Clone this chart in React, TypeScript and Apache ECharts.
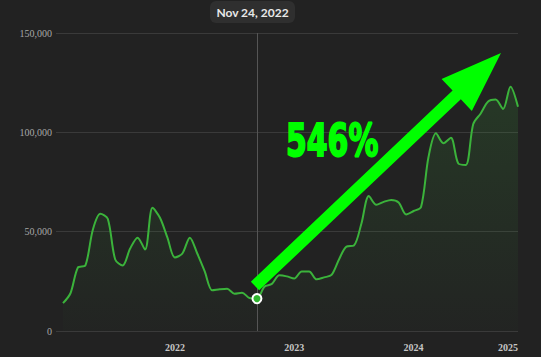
import React, { useEffect, useRef } from "react";
import * as echarts from "echarts";

// Series values (one point every ~3 weeks)
const values = [
  14000, 19000, 32000, 33000, 51000, 59000, 56500, 36000, 33000, 41500,
  47000, 41000, 62000, 57000, 47000, 37000, 39000, 47000, 39000, 30000,
  20500, 21000, 21300, 18800, 19300, 16600, 16300, 22300, 23700, 28000,
  27500, 26400, 30000, 30000, 26000, 27000, 28200, 36000, 42500, 43000,
  54000, 68000, 63500, 65000, 66000, 64700, 58700, 60400, 62400, 87600,
  99500, 94500, 97300, 84300, 83600, 104200, 109500, 115500, 116500, 111800,
  123000, 112900,
];

const highlightIndex = 26;
const highlightLabel = "Nov 24, 2022";
const yearLabels = ["2022", "2023", "2024", "2025"];
const yearLabelIndex = [15, 31, 47, 61];
const growthLabel = "546%";

export default function App() {
  const ref = useRef<HTMLDivElement>(null);

  useEffect(() => {
    const chart = echarts.init(ref.current!, null, { renderer: "svg" });

    // Arrow annotation geometry
    const tail = [255, 286];
    const tip = [501, 53];
    const dx = tip[0] - tail[0];
    const dy = tip[1] - tail[1];
    const len = Math.hypot(dx, dy);
    const ux = dx / len;
    const uy = dy / len;
    const nx = -uy;
    const ny = ux;
    const headLen = 61;
    const headHalf = 22;
    const shaftHalf = 6;
    const bx = tip[0] - ux * headLen;
    const by = tip[1] - uy * headLen;
    const arrowPts = [
      [tail[0] + nx * shaftHalf, tail[1] + ny * shaftHalf],
      [bx + nx * shaftHalf, by + ny * shaftHalf],
      [bx + nx * headHalf, by + ny * headHalf],
      tip,
      [bx - nx * headHalf, by - ny * headHalf],
      [bx - nx * shaftHalf, by - ny * shaftHalf],
      [tail[0] - nx * shaftHalf, tail[1] - ny * shaftHalf],
    ];

    chart.setOption({
      animation: false,
      backgroundColor: "#222222",
      grid: { left: 56, right: 23, top: 33, bottom: 26, outerBoundsMode: "none" },
      xAxis: {
        type: "value",
        min: -0.94,
        max: values.length - 1,
        axisLine: { show: false },
        axisTick: { show: false },
        splitLine: { show: false },
        axisLabel: {
          customValues: yearLabelIndex,
          formatter: (v: number) => {
            const k = yearLabelIndex.indexOf(Math.round(v));
            return k >= 0 ? yearLabels[k] : "";
          },
          color: "#c6c6c6",
          fontFamily: "Liberation Serif",
          fontWeight: "bold",
          fontSize: 10,
          margin: 11,
          showMaxLabel: true,
          alignMaxLabel: "right",
        },
      },
      yAxis: {
        type: "value",
        min: 0,
        max: 150000,
        interval: 50000,
        axisLine: { show: false },
        axisTick: { show: false },
        axisLabel: {
          formatter: (v: number) => v.toLocaleString("en-US"),
          color: "#a8a8a8",
          fontFamily: "Liberation Serif",
          fontSize: 10,
          margin: 4,
        },
        splitLine: { lineStyle: { color: "#3a3a3a", width: 1 } },
      },
      series: [
        {
          type: "line",
          data: values.map((v, i) => [i, v]),
          smooth: 0.3,
          showSymbol: false,
          lineStyle: { color: "#3bb33b", width: 2 },
          areaStyle: {
            color: new echarts.graphic.LinearGradient(0, 0, 0, 1, [
              { offset: 0, color: "rgba(60,170,60,0.24)" },
              { offset: 1, color: "rgba(60,170,60,0.02)" },
            ]),
          },
          markLine: {
            silent: true,
            symbol: "none",
            label: { show: false },
            lineStyle: { color: "#555555", width: 1, type: "solid" },
            data: [{ xAxis: highlightIndex }],
          },
          markPoint: {
            symbol: "circle",
            symbolSize: 9,
            label: { show: false },
            itemStyle: { color: "#2fb52f", borderColor: "#ffffff", borderWidth: 2 },
            data: [{ coord: [highlightIndex, values[highlightIndex]] }],
          },
        },
      ],
      graphic: [
        {
          type: "polygon",
          z: 100,
          shape: { points: arrowPts },
          style: { fill: "#00ff00" },
        },
        {
          type: "text",
          z: 100,
          x: 286,
          y: 141,
          scaleX: 0.68,
          style: {
            text: growthLabel,
            fill: "#00ff00",
            stroke: "#00ff00",
            lineWidth: 2,
            fontFamily: "DejaVu Sans",
            fontWeight: "bold",
            fontSize: 44,
            align: "left",
            verticalAlign: "middle",
          },
        },
        {
          type: "rect",
          z: 100,
          shape: { x: 210, y: 1, width: 85, height: 22, r: 6 },
          style: { fill: "#2f2f2f" },
        },
        {
          type: "text",
          z: 101,
          x: 252.5,
          y: 12,
          style: {
            text: highlightLabel,
            fill: "#e8e8e8",
            fontFamily: "Lato",
            fontWeight: "bold",
            fontSize: 12,
            align: "center",
            verticalAlign: "middle",
          },
        },
      ],
    });

    return () => chart.dispose();
  }, []);

  return (
    <div
      ref={ref}
      style={{ position: "fixed", left: 0, top: 0, width: 541, height: 357 }}
    />
  );
}
